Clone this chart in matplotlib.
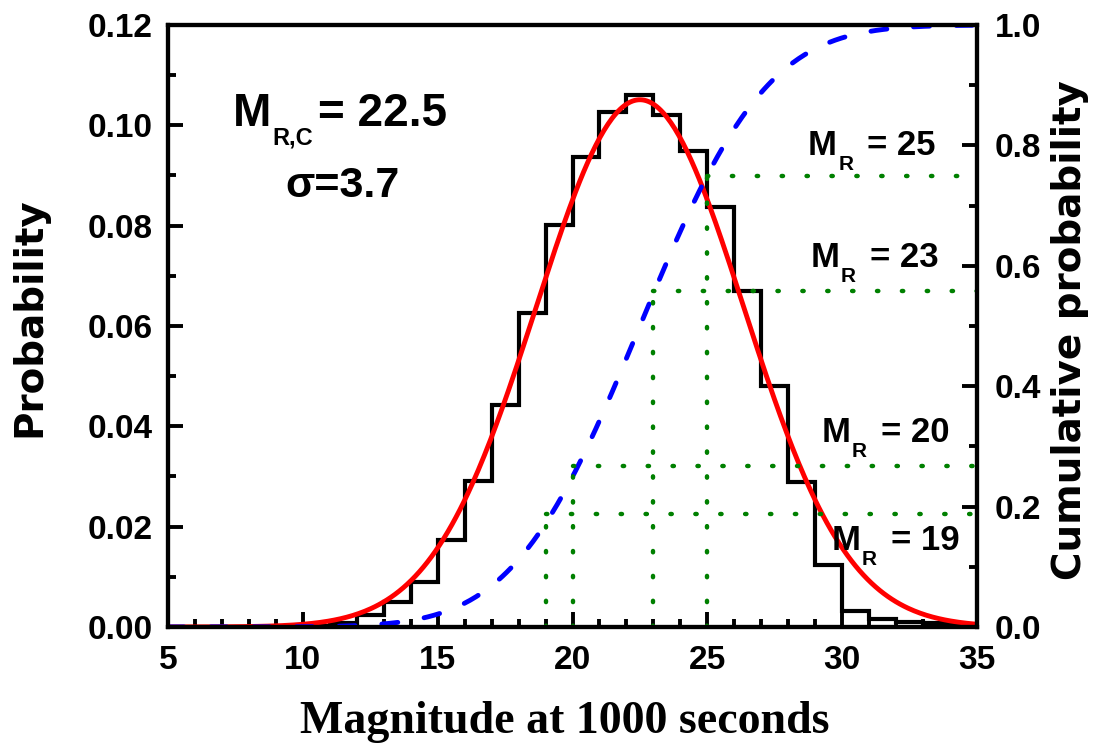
import math
import matplotlib
matplotlib.use('Agg')
import matplotlib.pyplot as plt
import numpy as np
from matplotlib.ticker import MultipleLocator, FormatStrFormatter

# histogram of magnitudes (bin edges 5..35, width 1)
bin_edges = np.arange(5, 36, 1)
probability = [0, 0, 0, 0, 0, 0.0002, 0.0008, 0.0023, 0.0050, 0.0090,
               0.0174, 0.0290, 0.0442, 0.0626, 0.0801, 0.0936, 0.1027, 0.1060,
               0.1020, 0.0948, 0.0837, 0.0669, 0.0481, 0.0288, 0.0123, 0.0032,
               0.0015, 0.0010, 0.0007, 0.0004]

# gaussian fit shown as red (density) and blue (cumulative) curves
fit_mean = 22.5
fit_width = 3.85
fit_peak = 0.1051
cdf_width = 3.7
text_mean = '22.5'
text_sigma = '3.7'

# reference magnitudes and their cumulative probability
mr_values = [19, 20, 23, 25]
mr_cum = [0.187, 0.267, 0.558, 0.749]

plt.rcParams['font.family'] = ['Liberation Sans', 'DejaVu Sans']
plt.rcParams['font.weight'] = 'bold'

fig = plt.figure(figsize=(10.93, 7.44), dpi=100)
ax = fig.add_axes([0.1537, 0.1573, 0.7402, 0.8091])

ax.stairs(probability, bin_edges, color='black', lw=3, baseline=0)

xs = np.linspace(5, 35, 400)
pdf = fit_peak * np.exp(-(xs - fit_mean) ** 2 / (2 * fit_width ** 2))
ax.plot(xs, pdf, color='red', lw=3.5)

ax.set_xlim(5, 35)
ax.set_ylim(0, 0.12)
ax.xaxis.set_major_locator(MultipleLocator(5))
ax.xaxis.set_minor_locator(MultipleLocator(1))
ax.yaxis.set_major_locator(MultipleLocator(0.02))
ax.yaxis.set_minor_locator(MultipleLocator(0.01))
ax.yaxis.set_major_formatter(FormatStrFormatter('%.2f'))
ax.tick_params(which='both', direction='in', width=2.8, top=False, right=False,
               labelsize=24)
ax.tick_params(which='major', length=11)
ax.tick_params(which='minor', length=6)
ax.tick_params(axis='x', pad=13)
ax.tick_params(axis='y', pad=11)

ax.set_xlabel('Magnitude at 1000 seconds', family='Liberation Serif',
              fontsize=33, fontweight='bold', labelpad=18, x=0.491)
ax.set_ylabel('Probability', family='DejaVu Sans', fontsize=28,
              fontweight='bold', labelpad=28, y=0.515)

ax2 = ax.twinx()
cdf = [0.5 * (1 + math.erf((x - fit_mean) / (cdf_width * math.sqrt(2)))) for x in xs]
ax2.plot(xs, cdf, color='blue', lw=3.5, dashes=(3.3, 5.5), dash_capstyle='round')

for m, c in zip(mr_values, mr_cum):
    ax2.plot([m, m], [0, c], color='green', lw=3.2, dashes=(0.3, 5.3),
             dash_capstyle='round')
    ax2.plot([m, 35], [c, c], color='green', lw=3.2, dashes=(0.3, 5.3),
             dash_capstyle='round')

ax2.set_ylim(0, 1.0)
ax2.yaxis.set_major_locator(MultipleLocator(0.2))
ax2.yaxis.set_minor_locator(MultipleLocator(0.1))
ax2.yaxis.set_major_formatter(FormatStrFormatter('%.1f'))
ax2.tick_params(which='both', direction='in', width=2.8, labelsize=24, pad=13)
ax2.tick_params(which='major', length=11)
ax2.tick_params(which='minor', length=6)
ax2.set_ylabel('Cumulative probability', family='DejaVu Sans', fontsize=28,
               fontweight='bold', labelpad=7, y=0.493)

for a in (ax, ax2):
    for s in a.spines.values():
        s.set_linewidth(3)


def m_label(x, y, sub, rest, size, subsize, sub_dx, sub_dy, rest_dx):
    t = ax.text(x, y, 'M', fontsize=size, fontweight='bold', va='baseline', ha='left')
    ax.annotate(sub, xy=(1, 0), xycoords=t, xytext=(sub_dx, sub_dy),
                textcoords='offset points', fontsize=subsize, fontweight='bold',
                va='bottom', ha='left')
    ax.annotate(rest, xy=(1, 0), xycoords=t, xytext=(rest_dx, 0),
                textcoords='offset points', fontsize=size, fontweight='bold',
                va='bottom', ha='left')


m_label(7.41, 0.0999, 'R,C', '= ' + text_mean, 33, 17, 1, -9.8, 33.5)
ax.text(9.34, 0.0857, '\u03c3=' + text_sigma, fontsize=31, fontweight='bold',
        va='baseline', ha='left')

label_pos = {25: (28.73, 0.0940), 23: (28.83, 0.0717), 20: (29.24, 0.0369),
             19: (29.61, 0.0153)}
for m in mr_values:
    lx, ly = label_pos[m]
    m_label(lx, ly, 'R', '= %d' % m, 25, 15, 1, -8.6, 22)

fig.savefig('out.png', dpi=100)
